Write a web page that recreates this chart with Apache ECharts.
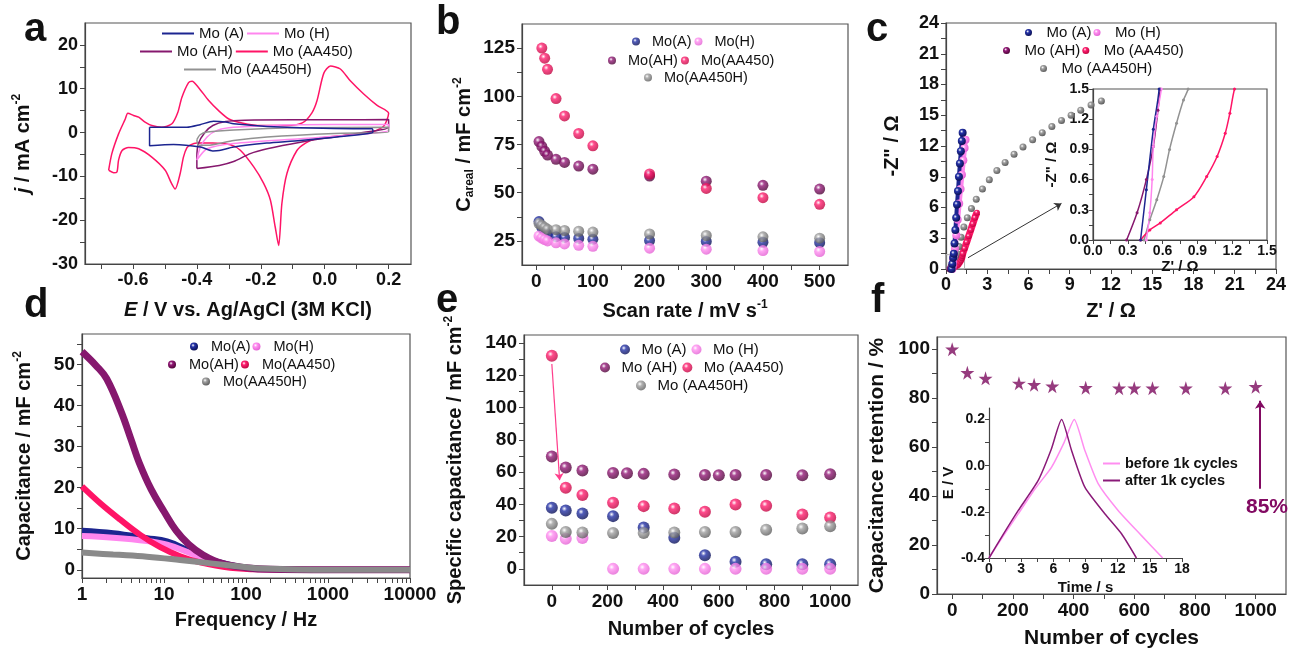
<!DOCTYPE html>
<html>
<head>
<meta charset="utf-8">
<script src="https://cdn.jsdelivr.net/npm/echarts@6/dist/echarts.min.js"></script>
<style>
html,body{margin:0;padding:0;background:#fff}
#main{width:1289px;height:650px}
</style>
</head>
<body>
<div id="main"></div>
<script>
// ---------- a: cyclic voltammograms [E, j] ----------
var cvAA450 = [[-0.676,-8.6],[-0.666,-4.8],[-0.645,-0.3],[-0.624,3.1],[-0.616,4.4],[-0.598,3.9],[-0.582,3.5],[-0.562,2.4],[-0.541,1.6],[-0.51,1.2],[-0.478,2.0],[-0.46,4.5],[-0.447,8.0],[-0.426,11.4],[-0.415,11.7],[-0.395,10.3],[-0.363,7.3],[-0.332,5.0],[-0.3,3.1],[-0.259,2.2],[-0.2,1.6],[-0.12,1.6],[-0.07,2.2],[-0.04,4.5],[-0.024,7.3],[-0.003,13.5],[0.018,15.2],[0.049,14.5],[0.08,11.8],[0.122,8.8],[0.164,6.2],[0.2,4.4],[0.185,1.5],[0.15,0.2],[0.1,-0.4],[0.04,-0.8],[-0.03,-1.5],[-0.06,-2.4],[-0.087,-4.1],[-0.118,-9.3],[-0.134,-16.2],[-0.144,-25.8],[-0.155,-21.5],[-0.17,-15.4],[-0.191,-11.6],[-0.222,-7.85],[-0.264,-4.05],[-0.295,-2.8],[-0.35,-2.4],[-0.4,-2.4],[-0.42,-2.8],[-0.431,-3.45],[-0.442,-5.6],[-0.452,-9.3],[-0.468,-12.9],[-0.48,-11.5],[-0.499,-8.6],[-0.541,-5.6],[-0.582,-3.7],[-0.614,-3.4],[-0.634,-4.1],[-0.645,-6.3],[-0.65,-9.0],[-0.66,-9.2],[-0.676,-8.6]];
var cvA = [[-0.548,1.2],[-0.5,1.2],[-0.431,1.2],[-0.39,1.8],[-0.348,2.6],[-0.31,2.4],[-0.285,2.0],[-0.18,1.4],[0.03,0.9],[0.148,0.86],[0.151,0.1],[0.132,-0.27],[-0.076,-1.8],[-0.181,-2.4],[-0.285,-3.3],[-0.33,-4.1],[-0.35,-4.2],[-0.389,-3.3],[-0.473,-2.7],[-0.548,-3.0],[-0.548,1.2]];
var cvAH = [[-0.4,-8.2],[-0.4,-5.6],[-0.395,-2.5],[-0.375,0],[-0.35,1.6],[-0.31,2.5],[-0.25,2.8],[-0.1,2.9],[0.05,2.9],[0.2,3.0],[0.2,1.2],[0.13,0.1],[0.03,-1.0],[-0.076,-2.2],[-0.18,-3.7],[-0.233,-4.8],[-0.285,-6.6],[-0.33,-7.5],[-0.4,-8.2]];
var cvH = [[-0.4,-6.3],[-0.389,-3.3],[-0.368,-1.0],[-0.337,0.5],[-0.285,1.2],[-0.076,1.8],[0.13,1.85],[0.2,1.85],[0.2,0.5],[0.13,-0.3],[-0.076,-1.4],[-0.285,-2.5],[-0.368,-3.7],[-0.4,-6.3]];
var cvAAH = [[-0.4,-1.6],[-0.39,-0.5],[-0.368,0.1],[-0.285,0.6],[-0.076,1.1],[0.2,1.2],[0.2,0.1],[0.03,-0.2],[-0.18,-1.0],[-0.285,-1.8],[-0.368,-2.9],[-0.395,-2.9],[-0.4,-1.6]];

// ---------- b: areal capacitance vs scan rate ----------
var scanRates = [5,10,15,20,35,50,75,100,200,300,400,500];
var bA    = [35,32,30,28.5,27.2,26.8,26.3,25.8,25.2,24.7,24.3,24.1];
var bH    = [27.5,26.5,25.7,25,24,23.4,22.7,22.2,21.2,20.7,20.0,19.5];
var bAH   = [76.5,74,71.5,69.5,67.3,65.7,63.8,62.2,58.6,56,53.8,51.9];
var bAA   = [null,125,119.8,114,98.8,89.8,80.7,74.3,59.7,52.2,47.4,44];
var bAAH  = [34,33,32,31,30.8,30.4,30,29.6,28.6,27.8,27.1,26.4];

// ---------- c: Nyquist [Z', -Z''] ----------
var cA   = [[0.41,0],[0.46,0.5],[0.52,1.1],[0.57,1.5],[0.62,2.5],[0.68,3.8],[0.74,5.0],[0.8,6.3],[0.87,7.6],[0.94,9.0],[1.01,10.3],[1.08,11.5],[1.15,12.5],[1.21,13.3]];
var cH   = [[0.46,0],[0.49,0.27],[0.51,0.6],[0.52,0.93],[0.55,1.23],[0.59,1.5],[0.65,2.0],[0.75,3.3],[0.85,4.8],[0.96,6.4],[1.06,7.8],[1.16,9.2],[1.26,10.6],[1.35,11.8],[1.42,12.6]];
var cAH  = [[0.29,0],[0.38,0.27],[0.46,0.6],[0.52,0.93],[0.56,1.29],[0.58,1.5],[0.63,1.9],[0.68,2.3]];
var cAA  = [[0.41,0],[0.49,0.1],[0.58,0.17],[0.72,0.3],[0.87,0.43],[0.98,0.63],[1.07,0.83],[1.14,1.06],[1.18,1.26],[1.22,1.5],[1.35,2.0],[1.5,2.6],[1.65,3.2],[1.8,3.8],[1.95,4.4],[2.1,5.0],[2.25,5.5]];
var cAAH = [[0.44,0],[0.49,0.2],[0.55,0.4],[0.61,0.63],[0.66,0.9],[0.72,1.16],[0.78,1.39],[0.82,1.5],[0.95,2.2],[1.1,3.1],[1.3,4.1],[1.55,5.0],[1.85,5.9],[2.2,6.8],[2.65,7.8],[3.15,8.7],[3.7,9.6],[4.3,10.4],[4.95,11.2],[5.6,11.9],[6.3,12.6],[7.0,13.3],[7.7,13.9],[8.4,14.5],[9.1,15.0],[9.8,15.5],[10.55,16.0],[11.3,16.4]];

// ---------- d: capacitance vs frequency [Hz, mF cm-2] ----------
var dA   = [[1,9.5],[2.4,8.9],[6.2,7.7],[10.9,6.9],[19,4.9],[33,2.8],[64,1.2],[148,0.2],[1000,0],[10000,0]];
var dH   = [[1,8.2],[2.4,7.8],[6.2,7.0],[10.9,6.1],[19,4.4],[33,2.4],[64,1.0],[148,0.15],[1000,0],[10000,0]];
var dAH  = [[1,53.1],[1.5,49.6],[2,46.5],[3,38.5],[4,31.5],[5,26],[7,19.5],[10,14.2],[14,9.6],[20,6.2],[30,3.6],[50,1.6],[100,0.5],[200,0.1],[1000,0],[10000,0]];
var dAA  = [[1,20.3],[1.67,16.2],[2.93,12.2],[5.13,8.5],[9,5.5],[15.7,3.3],[27.6,1.8],[64,0.5],[150,0.1],[1000,0],[10000,0]];
var dAAH = [[1,4.2],[2.4,3.7],[6.2,3.2],[15.7,2.4],[40,1.5],[102,0.6],[150,0.3],[1000,0],[10000,0]];

// ---------- e / f: cycling ----------
var cycles = [0,50,110,220,270,330,440,550,600,660,770,900,1000];
var eA   = [37.9,36.2,34.3,32.7,null,25.6,19.3,8.5,null,4.4,2.9,2.9,2.9];
var eH   = [20.4,18.7,19.1,0,null,0,0,0,null,0,0,0,0];
var eAH  = [69.7,62.8,61,59.5,59.3,58.9,58.5,58.2,58,58.2,58.2,58,58.7];
var eAA  = [132.1,50.3,45.8,41,null,38.9,37.4,35.4,null,39.9,39.1,33.7,31.8];
var eAAH = [27.9,22.9,22.5,22.3,null,22.3,22.5,22.9,null,22.9,24.3,25,26.4];
var retention = [100,90.4,88.1,86.1,85.5,84.9,84.3,84.1,84.1,84.1,84.1,84.1,84.7];
var gcdBefore = [[0,-0.4],[1.4,-0.3],[2.73,-0.208],[4.3,-0.1],[5.84,-0.006],[7,0.1],[7.95,0.2],[8.94,0.066],[10.18,-0.078],[12.04,-0.194],[14.2,-0.302],[16.2,-0.4]];
var gcdAfter  = [[0,-0.4],[1.3,-0.3],[2.73,-0.194],[4.59,-0.064],[5.8,0.07],[6.77,0.2],[7.7,0.066],[8.94,-0.093],[10.8,-0.208],[12.36,-0.295],[13.75,-0.4]];

// ---------- tick values ----------
var aXLabels = [-0.6,-0.4,-0.2,0,0.2], aXTicks = [-0.7,-0.6,-0.5,-0.4,-0.3,-0.2,-0.1,0,0.1,0.2];
var aYLabels = [-30,-20,-10,0,10,20], aYTicks = [-25,-20,-15,-10,-5,0,5,10,15,20];
var bXLabels = [0,100,200,300,400,500], bXTicks = [0,50,100,150,200,250,300,350,400,450,500];
var bYLabels = [25,50,75,100,125], bYTicks = [25,37.5,50,62.5,75,87.5,100,112.5,125];
var cLabels = [0,3,6,9,12,15,18,21,24], cTicks = [0,1.5,3,4.5,6,7.5,9,10.5,12,13.5,15,16.5,18,19.5,21,22.5,24];
var ciLabels = [0,0.3,0.6,0.9,1.2,1.5], ciTicks = [0,0.15,0.3,0.45,0.6,0.75,0.9,1.05,1.2,1.35,1.5];
var dXLabels = [1,10,100,1000,10000];
var dXTicks = [1,2,3,4,5,6,7,8,9,10,20,30,40,50,60,70,80,90,100,200,300,400,500,600,700,800,900,1000,2000,3000,4000,5000,6000,7000,8000,9000,10000];
var dYLabels = [0,10,20,30,40,50], dYTicks = [0,5,10,15,20,25,30,35,40,45,50,55];
var eXLabels = [0,200,400,600,800,1000], eXTicks = [0,100,200,300,400,500,600,700,800,900,1000];
var eYLabels = [0,20,40,60,80,100,120,140], eYTicks = [0,10,20,30,40,50,60,70,80,90,100,110,120,130,140];
var fYLabels = [0,20,40,60,80,100], fYTicks = [0,10,20,30,40,50,60,70,80,90,100];
var fiXLabels = [0,3,6,9,12,15,18], fiXTicks = [0,1.5,3,4.5,6,7.5,9,10.5,12,13.5,15,16.5,18];
var fiYLabels = [-0.4,-0.2,0,0.2], fiYTicks = [-0.4,-0.3,-0.2,-0.1,0,0.1,0.2];

var FONT = 'Liberation Sans, Arial, sans-serif';
var C_A = '#1c2590', C_H = '#ff86ee', C_AH = '#86186e', C_AA = '#ff1466', C_AAH = '#929292';

function sphere(base, dark) {
	return {type:'radial', x:0.38, y:0.35, r:0.72, colorStops:[
		{offset:0, color:'#ffffff'}, {offset:0.3, color:base}, {offset:1, color:dark}]};
}
var S_A = sphere('#2533a8','#070b4a'), S_H = sphere('#ff90f0','#e05ad0'),
	S_AH = sphere('#941a78','#45002f'), S_AA = sphere('#ff2070','#b8003a'),
	S_AAH = sphere('#a0a0a0','#555555');

function pairs(xs, ys) {
	var out = [];
	for (var i = 0; i < xs.length; i++) {
		if (ys[i] != null) out.push([xs[i], ys[i]]);
	}
	return out;
}
function rich(sz) {
	var base = {fontSize:sz, fontWeight:'bold', fontFamily:FONT, color:'#111', lineHeight:sz+4};
	return {
		n: base,
		i: Object.assign({}, base, {fontStyle:'italic'}),
		sup: {fontSize:Math.round(sz*0.6), fontWeight:'bold', fontFamily:FONT, color:'#111', verticalAlign:'top', lineHeight:sz+4},
		sub: {fontSize:Math.round(sz*0.6), fontWeight:'bold', fontFamily:FONT, color:'#111', verticalAlign:'bottom', lineHeight:sz+4}
	};
}
function int(v) { return String(Math.round(v)); }
function one(v) { return (Math.abs(v) < 1e-9 ? 0 : v).toFixed(1); }

function axis(o) {
	return {
		gridIndex: o.g, type: o.type || 'value', min: o.min, max: o.max, logBase: 10,
		name: o.name || '', nameLocation: 'middle', nameGap: o.gap,
		nameTextStyle: {fontSize:o.ns, fontWeight:'bold', fontFamily:FONT, color:'#111', rich:rich(o.ns)},
		axisLine: {show:true, onZero:false, lineStyle:{color:'#444', width:1.2}},
		axisTick: {show:true, length:o.tl || 5, customValues:o.ticks, lineStyle:{color:'#444', width:1}},
		axisLabel: {customValues:o.labels, formatter:o.fmt || int, fontSize:o.ls, fontWeight:'bold',
			fontFamily:FONT, color:'#111', margin:o.lm || 7},
		splitLine: {show:false}, minorTick: {show:false}
	};
}

var legText = {fontSize:15, fontFamily:FONT, color:'#111'};
function legRow(names, left, top, w, h, gap, icon, size) {
	return {data:names, left:left, top:top, itemWidth:w, itemHeight:h, itemGap:gap, padding:0,
		icon:icon, selectedMode:false, textStyle:Object.assign({}, legText, {fontSize:size || 15}),
		formatter:function(n){ return n.trim(); }};
}

function cvLine(name, data, color) {
	return {name:name, type:'line', xAxisIndex:0, yAxisIndex:0, data:data, symbol:'none',
		smooth:0.25, lineStyle:{color:color, width:1.5}, itemStyle:{color:color}};
}
function dots(name, data, ax, color, size, extra) {
	var s = {name:name, type:'scatter', xAxisIndex:ax, yAxisIndex:ax, data:data, symbol:'circle',
		symbolSize:size, itemStyle:{color:color}};
	return Object.assign(s, extra || {});
}
function chain(name, data, ax, color, dotColor, size, lw) {
	return {name:name, type:'line', xAxisIndex:ax, yAxisIndex:ax, data:data, symbol:'circle',
		showAllSymbol:true, symbolSize:size, smooth:0.3, lineStyle:{color:color, width:lw},
		itemStyle:{color:dotColor}};
}
function band(name, data, color, w, dot) {
	return {name:name, type:'line', xAxisIndex:4, yAxisIndex:4, data:data, symbol:'none',
		smooth:0.4, lineStyle:{color:color, width:w}, itemStyle:{color:dot}};
}

var arrowLine = function(from, to, color, w, s) {
	return {silent:true, symbol:['none','arrow'], symbolSize:s, label:{show:false},
		lineStyle:{color:color, width:w, type:'solid'}, data:[[{coord:from},{coord:to}]], animation:false};
};

var option = {
	animation: false,
	backgroundColor: '#fff',
	grid: [
		{left:85, top:23, width:326, height:241},
		{left:522, top:24, width:326, height:241},
		{left:946, top:23, width:331, height:246},
		{left:1093, top:89, width:174, height:151, backgroundColor:'#fff'},
		{left:82, top:334, width:328, height:244},
		{left:524, top:335, width:334, height:250},
		{left:937, top:337, width:349, height:260},
		{left:989, top:408, width:193, height:150, show:false}
	].map(function(g){ return Object.assign({show:true, borderColor:'#555', borderWidth:1.2}, g); }),
	xAxis: [
		axis({g:0, min:-0.75, max:0.27, labels:aXLabels, ticks:aXTicks, fmt:one, ls:18, ns:20, gap:34,
			name:'{i|E}{n| / V vs. Ag/AgCl (3M KCl)}'}),
		axis({g:1, min:-25, max:550, labels:bXLabels, ticks:bXTicks, ls:19, ns:20, gap:34,
			name:'{n|Scan rate / mV s}{sup|-1}'}),
		axis({g:2, min:0, max:24, labels:cLabels, ticks:cTicks, ls:18, ns:20, gap:30, name:"{n|Z' / \u03a9}"}),
		axis({g:3, min:0, max:1.5, labels:ciLabels, ticks:ciTicks, fmt:one, ls:14, ns:15, gap:17, lm:4, tl:4,
			name:"{n|Z' / \u03a9}"}),
		axis({g:4, type:'log', min:1, max:10000, labels:dXLabels, ticks:dXTicks, ls:19, ns:20, gap:30,
			name:'{n|Frequency / Hz}'}),
		axis({g:5, min:-100, max:1100, labels:eXLabels, ticks:eXTicks, ls:19, ns:20, gap:32,
			name:'{n|Number of cycles}'}),
		axis({g:6, min:-50, max:1100, labels:eXLabels, ticks:eXTicks, ls:19, ns:21, gap:32,
			name:'{n|Number of cycles}'}),
		axis({g:7, min:0, max:18, labels:fiXLabels, ticks:fiXTicks, ls:14, ns:15, gap:20, lm:4, tl:4,
			name:'{n|Time / s}'})
	],
	yAxis: [
		axis({g:0, min:-30, max:25, labels:aYLabels, ticks:aYTicks, ls:18, ns:20, gap:50,
			name:'{i|j}{n| / mA cm}{sup|-2}'}),
		axis({g:1, min:12.5, max:137.5, labels:bYLabels, ticks:bYTicks, ls:19, ns:20, gap:46,
			name:'{n|C}{sub|areal}{n| / mF cm}{sup|-2}'}),
		axis({g:2, min:0, max:24, labels:cLabels, ticks:cTicks, ls:18, ns:20, gap:42, name:'{n|-Z" / \u03a9}'}),
		axis({g:3, min:0, max:1.5, labels:ciLabels, ticks:ciTicks, fmt:one, ls:14, ns:15, gap:32, lm:4, tl:4,
			name:'{n|-Z" / \u03a9}'}),
		axis({g:4, min:-2, max:57.4, labels:dYLabels, ticks:dYTicks, ls:19, ns:20, gap:46,
			name:'{n|Capacitance / mF cm}{sup|-2}'}),
		axis({g:5, min:-10, max:145, labels:eYLabels, ticks:eYTicks, ls:19, ns:20, gap:57,
			name:'{n|Specific capacitance / mF cm}{sup|-2}'}),
		axis({g:6, min:0, max:105, labels:fYLabels, ticks:fYTicks, ls:19, ns:21, gap:47,
			name:'{n|Capacitance retention / %}'}),
		axis({g:7, min:-0.4, max:0.25, labels:fiYLabels, ticks:fiYTicks, fmt:one, ls:14, ns:15, gap:31, lm:4, tl:4,
			name:'{n|E / V}'})
	],
	legend: [
		legRow(['Mo (A)','Mo (H)'], 162, 26, 32, 2, 3, 'rect'),
		legRow(['Mo (AH)','Mo (AA450)'], 140, 44, 32, 2, 3, 'rect'),
		legRow(['Mo (AA450H)'], 184, 62, 32, 2, 3, 'rect'),
		legRow(['Mo(A)','Mo(H)'], 632, 34, 22, 8, 3, 'circle', 14.5),
		legRow(['Mo(AH)','Mo(AA450)'], 608, 53, 22, 8, 3, 'circle', 14.5),
		legRow(['Mo(AA450H)'], 644, 70, 22, 8, 3, 'circle', 14.5),
		legRow(['Mo (A) ','Mo (H) '], 1025, 25, 26, 7, 2, 'circle'),
		legRow(['Mo (AH) ','Mo (AA450) '], 1003, 43, 26, 7, 2, 'circle'),
		legRow(['Mo (AA450H) '], 1040, 61, 26, 7, 2, 'circle'),
		legRow(['Mo(A) ','Mo(H) '], 190, 339, 24, 8, 2, 'circle', 14.5),
		legRow(['Mo(AH) ','Mo(AA450) '], 168, 357, 24, 8, 2, 'circle', 14.5),
		legRow(['Mo(AA450H) '], 202, 374, 24, 8, 2, 'circle', 14.5),
		legRow(['Mo (A)  ','Mo (H)  '], 620, 342, 23, 10, 5, 'circle'),
		legRow(['Mo (AH)  ','Mo (AA450)  '], 600, 360, 23, 10, 5, 'circle'),
		legRow(['Mo (AA450H)  '], 636, 378, 23, 10, 5, 'circle'),
		{data:['before 1k cycles','after 1k cycles'], orient:'vertical', left:1103, top:456, itemWidth:17,
			itemHeight:2, itemGap:2, padding:0, icon:'rect', selectedMode:false,
			textStyle:{fontSize:14.5, fontWeight:'bold', fontFamily:FONT, color:'#111'}}
	],
	series: [
		// a
		cvLine('Mo (AA450)', cvAA450, C_AA),
		cvLine('Mo (AH)', cvAH, C_AH),
		cvLine('Mo (H)', cvH, C_H),
		cvLine('Mo (AA450H)', cvAAH, C_AAH),
		cvLine('Mo (A)', cvA, C_A),
		// b
		dots('Mo(A)', pairs(scanRates, bA), 1, S_A, 11),
		dots('Mo(H)', pairs(scanRates, bH), 1, S_H, 11),
		dots('Mo(AA450H)', pairs(scanRates, bAAH), 1, S_AAH, 11),
		dots('Mo(AH)', pairs(scanRates, bAH), 1, S_AH, 11),
		dots('Mo(AA450)', pairs(scanRates, bAA), 1, S_AA, 11),
		// c main
		chain('Mo (AH) ', cAH, 2, C_AH, S_AH, 7, 4),
		Object.assign(chain('Mo (AA450H) ', cAAH, 2, 'rgba(0,0,0,0)', S_AAH, 7, 0), {
			markLine: arrowLine([1.6,1.1],[8.4,6.4],'#333',1,7),
			markArea: {silent:true, itemStyle:{color:'rgba(0,0,0,0)', borderColor:'#b0b0b0', borderWidth:1},
				data:[[{coord:[0,0]},{coord:[1.35,1.4]}]]}
		}),
		chain('Mo (AA450) ', cAA, 2, C_AA, S_AA, 6, 7),
		chain('Mo (H) ', cH, 2, C_H, S_H, 8, 5),
		chain('Mo (A) ', cA, 2, C_A, S_A, 8, 4),
		// c inset
		chain('Mo (AH) ', cAH, 3, C_AH, C_AH, 3, 1.5),
		chain('Mo (AA450H) ', cAAH, 3, C_AAH, C_AAH, 3, 1.5),
		chain('Mo (AA450) ', cAA, 3, C_AA, C_AA, 3, 1.5),
		chain('Mo (H) ', cH, 3, C_H, C_H, 3, 1.5),
		chain('Mo (A) ', cA, 3, C_A, C_A, 3, 1.5),
		// d
		band('Mo(A) ', dA, C_A, 6, S_A),
		band('Mo(H) ', dH, C_H, 6, S_H),
		band('Mo(AA450) ', dAA, C_AA, 6, S_AA),
		band('Mo(AH) ', dAH, C_AH, 7, S_AH),
		band('Mo(AA450H) ', dAAH, '#8a8a8a', 6, S_AAH),
		// e
		dots('Mo (A)  ', pairs(cycles, eA), 5, S_A, 12),
		dots('Mo (H)  ', pairs(cycles, eH), 5, S_H, 12),
		dots('Mo (AH)  ', pairs(cycles, eAH), 5, S_AH, 12),
		dots('Mo (AA450)  ', pairs(cycles, eAA), 5, S_AA, 12, {markLine: arrowLine([0,127],[28,55],'#ff3d8b',1.2,7)}),
		dots('Mo (AA450H)  ', pairs(cycles, eAAH), 5, S_AAH, 12),
		// f
		{name:'retention', type:'scatter', xAxisIndex:6, yAxisIndex:6, data:pairs(cycles, retention),
			symbol:'path://M50,0 L61,35 L98,35 L68,57 L79,91 L50,70 L21,91 L32,57 L2,35 L39,35 Z',
			symbolSize:14, itemStyle:{color:'#7c0a5e'},
			markLine: arrowLine([1015,43],[1015,79],'#820a62',2,8)},
		{name:'before 1k cycles', type:'line', xAxisIndex:7, yAxisIndex:7, data:gcdBefore, symbol:'none',
			smooth:0.2, lineStyle:{color:'#ff8ef0', width:1.5}, itemStyle:{color:'#ff8ef0'}},
		{name:'after 1k cycles', type:'line', xAxisIndex:7, yAxisIndex:7, data:gcdAfter, symbol:'none',
			smooth:0.2, lineStyle:{color:'#8a1a78', width:1.5}, itemStyle:{color:'#8a1a78'}}
	],
	graphic: [
		{type:'text', x:24, y:50, style:{text:'a', fontSize:40, fontWeight:'bold', fontFamily:FONT, fill:'#111', textVerticalAlign:'bottom', verticalAlign:'bottom'}},
		{type:'text', x:436, y:43, style:{text:'b', fontSize:40, fontWeight:'bold', fontFamily:FONT, fill:'#111', textVerticalAlign:'bottom', verticalAlign:'bottom'}},
		{type:'text', x:866, y:50, style:{text:'c', fontSize:40, fontWeight:'bold', fontFamily:FONT, fill:'#111', textVerticalAlign:'bottom', verticalAlign:'bottom'}},
		{type:'text', x:24, y:326, style:{text:'d', fontSize:40, fontWeight:'bold', fontFamily:FONT, fill:'#111', textVerticalAlign:'bottom', verticalAlign:'bottom'}},
		{type:'text', x:436, y:321, style:{text:'e', fontSize:40, fontWeight:'bold', fontFamily:FONT, fill:'#111', textVerticalAlign:'bottom', verticalAlign:'bottom'}},
		{type:'text', x:871, y:321, style:{text:'f', fontSize:40, fontWeight:'bold', fontFamily:FONT, fill:'#111', textVerticalAlign:'bottom', verticalAlign:'bottom'}},
		{type:'text', x:1246, y:497, style:{text:'85%', fontSize:21, fontWeight:'bold', fontFamily:FONT, fill:'#820a62'}}
	]
};

var chart = echarts.init(document.getElementById('main'));
chart.setOption(option);
</script>
</body>
</html>
